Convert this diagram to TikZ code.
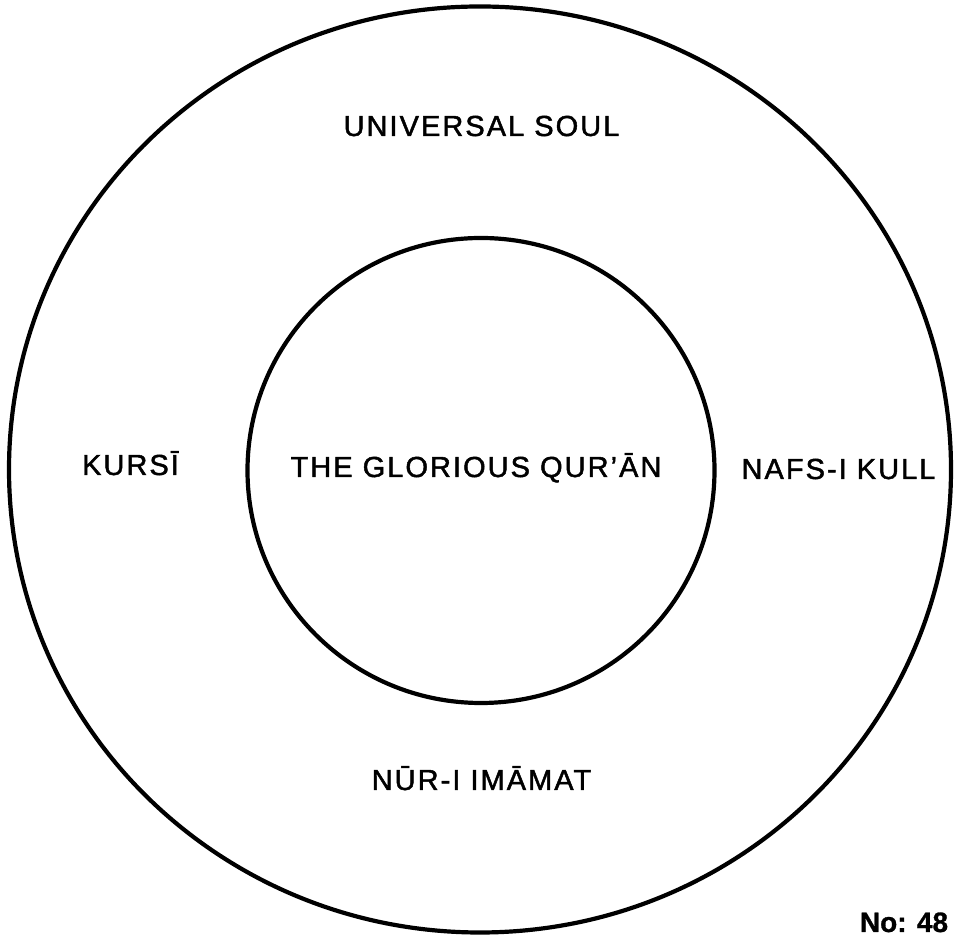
\documentclass[tikz,border=0pt]{standalone}
\usepackage{fontspec}
\setmainfont{Liberation Sans}[LetterSpace=7,FakeBold=1.6]
\newfontfamily\nofont{Liberation Sans}[FakeBold=1]
\begin{document}
\begin{tikzpicture}[x=1pt,y=1pt,
  ring/.style={line width=4.2pt,black},
  lbl/.style={anchor=base,inner sep=0pt,font=\fontsize{29}{34}\selectfont}]
\useasboundingbox (0,0) rectangle (959,936);
\clip (0,0) rectangle (959,936);
\draw[ring] (480,466.5) ellipse [x radius=471, y radius=463];
\draw[ring] (481,465.5) ellipse [x radius=233.5, y radius=232.5];
\node[lbl] (us) at (481.5,800) {UNIVERSAL SOUL};
\node[lbl] (gq) at (476,459) {THE GLORIOUS QUR’ĀN};
\node[lbl] (ku) at (130.5,461) {KURSĪ};
\node[lbl] (nk) at (838.5,457) {NAFS-I KULL};
\node[lbl] (ni) at (481.5,146) {NŪR-I IMĀMAT};
\node[anchor=base,inner sep=0pt,font=\nofont\bfseries\fontsize{28}{32}\selectfont] (no) at (904,4) {No: 48};
\end{tikzpicture}
\end{document}
